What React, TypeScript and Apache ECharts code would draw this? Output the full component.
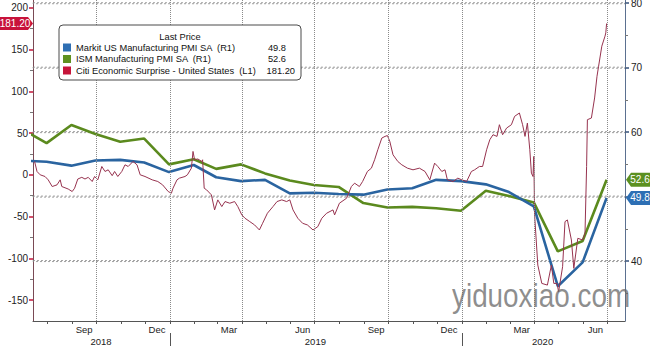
import React, { useEffect, useRef } from 'react';
import * as echarts from 'echarts';

const FONT = "'Liberation Sans', Arial, sans-serif";

// ---------- data ----------
const pmiDates = [
  '2018-06-30', '2018-07-31', '2018-08-31', '2018-09-30', '2018-10-31', '2018-11-30', '2018-12-31',
  '2019-01-31', '2019-02-28', '2019-03-31', '2019-04-30', '2019-05-31', '2019-06-30', '2019-07-31',
  '2019-08-31', '2019-09-30', '2019-10-31', '2019-11-30', '2019-12-31', '2020-01-31', '2020-02-29',
  '2020-03-31', '2020-04-30', '2020-05-31', '2020-06-30',
];
const markitValues = [
  55.6, 55.4, 54.8, 55.6, 55.7, 55.3, 53.8, 54.9, 53.0, 52.4, 52.6, 50.5, 50.6, 50.4,
  50.3, 51.1, 51.3, 52.6, 52.4, 51.9, 50.7, 48.5, 36.1, 39.8, 49.8,
];
const ismValues = [
  60.5, 58.3, 61.1, 59.7, 58.5, 59.0, 55.0, 55.8, 54.3, 55.0, 53.6, 52.5, 51.8, 51.5,
  49.0, 48.3, 48.4, 48.2, 47.8, 50.9, 50.1, 49.1, 41.5, 43.1, 52.6,
];

const citiDates = [
  '2018-07-16', '2018-07-19', '2018-07-23', '2018-07-29', '2018-08-02', '2018-08-07', '2018-08-13', '2018-08-17', '2018-08-19', '2018-08-27',
  '2018-09-01', '2018-09-04', '2018-09-08', '2018-09-13', '2018-09-17', '2018-09-21', '2018-09-26', '2018-09-29', '2018-10-03', '2018-10-08',
  '2018-10-12', '2018-10-16', '2018-10-21', '2018-10-24', '2018-10-28', '2018-11-02', '2018-11-06', '2018-11-10', '2018-11-16', '2018-11-21',
  '2018-11-25', '2018-12-01', '2018-12-10', '2018-12-17', '2018-12-23', '2018-12-30', '2019-01-03', '2019-01-05', '2019-01-10', '2019-01-13',
  '2019-01-20', '2019-01-23', '2019-01-28', '2019-01-30', '2019-02-01', '2019-02-05', '2019-02-10', '2019-02-11', '2019-02-13', '2019-02-16',
  '2019-02-22', '2019-02-26', '2019-03-02', '2019-03-07', '2019-03-11', '2019-03-17', '2019-03-23', '2019-03-27', '2019-04-01', '2019-04-05',
  '2019-04-11', '2019-04-17', '2019-04-23', '2019-04-27', '2019-05-03', '2019-05-10', '2019-05-15', '2019-05-21', '2019-05-27', '2019-05-31',
  '2019-06-04', '2019-06-10', '2019-06-16', '2019-06-22', '2019-06-29', '2019-07-05', '2019-07-10', '2019-07-16', '2019-07-24', '2019-07-26',
  '2019-08-01', '2019-08-10', '2019-08-16', '2019-08-20', '2019-08-26', '2019-08-30', '2019-09-05', '2019-09-10', '2019-09-14', '2019-09-18',
  '2019-09-23', '2019-09-27', '2019-09-30', '2019-10-03', '2019-10-07', '2019-10-13', '2019-10-18', '2019-10-25', '2019-11-01', '2019-11-09',
  '2019-11-16', '2019-11-22', '2019-11-28', '2019-12-02', '2019-12-07', '2019-12-11', '2019-12-14', '2019-12-21', '2019-12-27', '2020-01-01',
  '2020-01-07', '2020-01-13', '2020-01-17', '2020-01-23', '2020-01-27', '2020-02-01', '2020-02-05', '2020-02-09', '2020-02-14', '2020-02-17',
  '2020-02-21', '2020-02-26', '2020-03-03', '2020-03-07', '2020-03-13', '2020-03-17', '2020-03-20', '2020-03-23', '2020-03-26', '2020-03-28',
  '2020-03-30', '2020-03-31', '2020-04-01', '2020-04-05', '2020-04-10', '2020-04-17', '2020-04-22', '2020-04-25', '2020-04-29', '2020-05-01',
  '2020-05-06', '2020-05-09', '2020-05-12', '2020-05-17', '2020-05-20', '2020-05-25', '2020-05-31', '2020-06-03', '2020-06-05', '2020-06-06',
  '2020-06-11', '2020-06-15', '2020-06-18', '2020-06-20', '2020-06-24', '2020-06-28', '2020-06-29', '2020-06-30',
];
const citiValues = [
  16, 4, 0, -2, -6, -14, -12, -6, -14, -17,
  -20, -16, -5, -3, -5, -3, -8, -2, -6, 10,
  4, 6, -1, 4, -2, 4, 12, 10, 16, 12,
  0, -2, -6, -8, -12, -20, -22, -16, -6, -4,
  -2, 0, 8, 28, 18, 19, 16, 18, -16, -18,
  -24, -42, -30, -38, -32, -34, -32, -38, -48, -52,
  -56, -60, -66, -58, -46, -38, -32, -30, -32, -30,
  -42, -52, -58, -60, -66, -62, -52, -46, -42, -48,
  -34, -28, -14, -10, -14, -8, 4, 8, 18, 30,
  44, 46, 47, 40, 24, 16, 12, 8, 6, 8,
  4, -6, 14, 10, 4, 6, -6, -8, -4, -6,
  -8, 4, 6, 10, 10, 30, 42, 48, 46, 60,
  48, 56, 60, 70, 74, 60, 46, 62, 30, 2,
  -2, 22, -48, -108, -130, -132, -108, -130, -130, -140,
  -110, -56, -54, -78, -112, -76, -78, -70, 10, 66,
  68, 92, 118, 130, 154, 166, 170, 181.2,
];

const MARKIT_NAME = 'Markit US Manufacturing PMI SA  (R1)';
const ISM_NAME = 'ISM Manufacturing PMI SA  (R1)';
const CITI_NAME = 'Citi Economic Surprise - United States  (L1)';
const LEGEND_TITLE = 'Last Price';

// axis tick labels
const leftTickValues = [-150, -100, -50, 0, 50, 100, 150, 200];
const leftMinorValues = [-125, -75, -25, 25, 75, 125, 175];
const rightTickValues = [40, 50, 60, 70, 80];
const rightMinorValues = [35, 45, 55, 65, 75];
const monthLabelDates = ['2018-09-16', '2018-12-16', '2019-03-16', '2019-06-16', '2019-09-16', '2019-12-16', '2020-03-16', '2020-06-16'];
const monthLabels = ['Sep', 'Dec', 'Mar', 'Jun', 'Sep', 'Dec', 'Mar', 'Jun'];
const quarterGridDates = ['2018-10-01', '2019-01-01', '2019-04-01', '2019-07-01', '2019-10-01', '2020-01-01', '2020-04-01', '2020-07-01'];
const yearSepDates = ['2019-01-01', '2020-01-01'];
const yearLabelDates = ['2018-10-07', '2019-07-02', '2020-04-11'];
const yearLabels = ['2018', '2019', '2020'];
const X_MIN = '2018-07-14';
const X_MAX = '2020-07-23';

const BLUE = '#2a64a0';
const GREEN = '#5b8a1e';
const CITI_LINE = '#97334f';
const RED = '#c6153a';
const GRID = '#8a8a8a';

function ts(s: string): number {
  const [y, m, d] = s.split('-').map(Number);
  return new Date(y, m - 1, d).getTime();
}

function monthStarts(): number[] {
  const out: number[] = [];
  for (let y = 2018; y <= 2020; y++) {
    for (let m = 0; m < 12; m++) {
      const t = new Date(y, m, 1).getTime();
      if (t > ts(X_MIN) && t < ts(X_MAX)) out.push(t);
    }
  }
  return out;
}

function labelFor(dates: string[], labels: string[]) {
  const stamps = dates.map(ts);
  return (v: number) => {
    let best = 0;
    let bd = Infinity;
    stamps.forEach((s, i) => {
      const d = Math.abs(s - v);
      if (d < bd) { bd = d; best = i; }
    });
    return labels[best];
  };
}

export default function App() {
  const ref = useRef<HTMLDivElement>(null);

  useEffect(() => {
    const chart = echarts.init(ref.current!, null, { renderer: 'svg' });
    const xBase = { type: 'value', gridIndex: 0, min: ts(X_MIN), max: ts(X_MAX), position: 'bottom', scale: true };
    const lastMarkit = markitValues[markitValues.length - 1];
    const lastIsm = ismValues[ismValues.length - 1];
    const lastCiti = citiValues[citiValues.length - 1];
    const legendVals: Record<string, string> = {
      [MARKIT_NAME]: `{w|${lastMarkit.toFixed(1)}}`,
      [ISM_NAME]: `{w|${lastIsm.toFixed(1)}}`,
      [CITI_NAME]: `{v|${lastCiti.toFixed(2)}}`,
    };
    const txt = { fontFamily: FONT, fontSize: 9.3, color: '#111' };

    chart.setOption({
      animation: false,
      backgroundColor: '#ffffff',
      grid: { left: 33, right: 25, top: 0, bottom: 25, outerBoundsMode: 'none' },
      legend: {
        orient: 'vertical',
        left: 59,
        top: 25,
        padding: [17, 6, 4, 4],
        itemWidth: 8,
        itemHeight: 8,
        itemGap: 0.5,
        icon: 'rect',
        selectedMode: false,
        backgroundColor: '#ffffff',
        borderColor: '#4a4a4a',
        borderWidth: 1,
        borderRadius: 4,
        data: [MARKIT_NAME, ISM_NAME, CITI_NAME],
        itemStyle: { borderWidth: 0 },
        z: 20,
        textStyle: {
          ...txt,
          lineHeight: 11,
          rich: {
            n: { ...txt, width: 174 },
            v: { ...txt, width: 45, align: 'right' },
            w: { ...txt, width: 36, align: 'right' },
          },
        },
        formatter: (name: string) => `{n|${name}}${legendVals[name]}`,
      },
      xAxis: [
        {
          ...xBase,
          axisLine: { onZero: false, lineStyle: { color: '#555', width: 1 } },
          axisTick: { show: true, customValues: monthStarts(), length: 3, lineStyle: { color: '#555' } },
          axisLabel: {
            customValues: monthLabelDates.map(ts),
            formatter: labelFor(monthLabelDates, monthLabels),
            fontFamily: FONT, fontSize: 9.5, color: '#222', margin: 3,
          },
          splitLine: { show: false },
        },
        {
          ...xBase,
          offset: 12,
          axisLine: { show: false, onZero: false },
          axisTick: { show: true, customValues: yearSepDates.map(ts), length: 14, lineStyle: { color: '#555' } },
          axisLabel: {
            customValues: yearLabelDates.map(ts),
            formatter: labelFor(yearLabelDates, yearLabels),
            fontFamily: FONT, fontSize: 9.5, color: '#222', margin: 3,
          },
          splitLine: { show: false },
        },
      ],
      yAxis: [
        {
          type: 'value', position: 'left', min: -175, max: 209.3,
          axisLine: { show: true, onZero: false, lineStyle: { color: '#7a4a55' } },
          axisTick: { show: true, customValues: leftTickValues, length: 4, lineStyle: { color: RED, width: 1.5 } },
          axisLabel: { customValues: leftTickValues, fontFamily: FONT, fontSize: 10, color: '#222', margin: 5 },
          splitLine: { show: false },
        },
        {
          type: 'value', position: 'right', min: 30.7, max: 80.5,
          axisLine: { show: true, onZero: false, lineStyle: { color: '#5b7090' } },
          axisTick: { show: true, customValues: rightTickValues, length: 4, lineStyle: { color: '#35507a', width: 1.5 } },
          axisLabel: { customValues: rightTickValues, fontFamily: FONT, fontSize: 10, color: '#222', margin: 6 },
          splitLine: { show: false },
        },
        {
          type: 'value', position: 'left', min: -175, max: 209.3,
          axisLine: { show: false, onZero: false },
          axisTick: { show: true, customValues: leftMinorValues, length: 3, lineStyle: { color: '#777' } },
          axisLabel: { show: false },
          splitLine: { show: false },
        },
        {
          type: 'value', position: 'right', min: 30.7, max: 80.5,
          axisLine: { show: false, onZero: false },
          axisTick: { show: true, customValues: rightMinorValues, length: 3, lineStyle: { color: '#777' } },
          axisLabel: { show: false },
          splitLine: { show: false },
        },
      ],
      series: [
        {
          name: ISM_NAME, type: 'line', xAxisIndex: 0, yAxisIndex: 1,
          data: pmiDates.map((d, i) => [ts(d), ismValues[i]]),
          showSymbol: false, symbol: 'none',
          lineStyle: { width: 2.6, color: GREEN }, itemStyle: { color: '#5f9120' }, z: 3,
          markLine: {
            silent: true,
            symbol: ['none', 'none'],
            label: { show: false },
            lineStyle: { color: GRID, type: 'dotted', width: 1 },
            data: quarterGridDates.map((d) => ({ xAxis: ts(d) })),
          },
        },
        {
          name: MARKIT_NAME, type: 'line', xAxisIndex: 0, yAxisIndex: 1,
          data: pmiDates.map((d, i) => [ts(d), markitValues[i]]),
          showSymbol: false, symbol: 'none',
          lineStyle: { width: 2.6, color: BLUE }, itemStyle: { color: '#2f6fb3' }, z: 3,
        },
        {
          name: CITI_NAME, type: 'line', xAxisIndex: 0, yAxisIndex: 0,
          data: citiDates.map((d, i) => [ts(d), citiValues[i]]),
          showSymbol: false, symbol: 'none',
          lineStyle: { width: 1, color: CITI_LINE }, itemStyle: { color: RED }, z: 4,
        },
      ],
    });

    const yR = (v: number) => chart.convertToPixel({ yAxisIndex: 1 }, v) as unknown as number;
    const yL = (v: number) => chart.convertToPixel({ yAxisIndex: 0 }, v) as unknown as number;
    const g = yR(lastIsm);
    const b = yR(lastMarkit);
    const r = yL(lastCiti);
    const boxText = (x: number, y: number, t: string) => ({
      type: 'text', x, y, z: 61,
      style: { text: t, fill: '#ffffff', font: `10px ${FONT}`, align: 'center', verticalAlign: 'middle' },
    });
    // horizontal grid lines as rows of short dashes placed on the right axis scale
    const hLines = rightTickValues.map((v) => {
      const y = yR(v);
      return {
        type: 'rect', z: 1, silent: true,
        shape: { x: 33, y: y - 0.5, width: 592, height: 1 },
        style: { fill: 'none', stroke: GRID, lineWidth: 0.8, lineDash: [2, 2] },
      };
    });
    chart.setOption({
      graphic: [
        ...hLines,
        {
          type: 'text', x: 180, y: 37, z: 60,
          style: { text: LEGEND_TITLE, fill: '#111', font: `9.3px ${FONT}`, align: 'center', verticalAlign: 'middle' },
        },
        {
          type: 'text', x: 452, y: 296, scaleX: 0.82, z: 40,
          style: { text: 'yiduoxiao.com', fill: 'rgba(105,105,105,0.75)', font: `34px ${FONT}`, verticalAlign: 'middle' },
        },
        {
          type: 'polygon', z: 60,
          shape: { points: [[626, g], [631, g - 7], [650, g - 7], [650, g + 7], [631, g + 7]] },
          style: { fill: '#5b9020' },
        },
        boxText(640, g, lastIsm.toFixed(1)),
        {
          type: 'polygon', z: 60,
          shape: { points: [[626, b], [631, b - 7], [650, b - 7], [650, b + 7], [631, b + 7]] },
          style: { fill: '#2d6fb4' },
        },
        boxText(640, b, lastMarkit.toFixed(1)),
        {
          type: 'polygon', z: 60,
          shape: { points: [[0, r - 6.5], [28, r - 6.5], [33, r], [28, r + 6.5], [0, r + 6.5]] },
          style: { fill: '#c8133b' },
        },
        boxText(15, r, lastCiti.toFixed(2)),
      ],
    });

    return () => chart.dispose();
  }, []);

  return <div ref={ref} style={{ position: 'fixed', left: 0, top: 0, width: 650, height: 346 }} />;
}
